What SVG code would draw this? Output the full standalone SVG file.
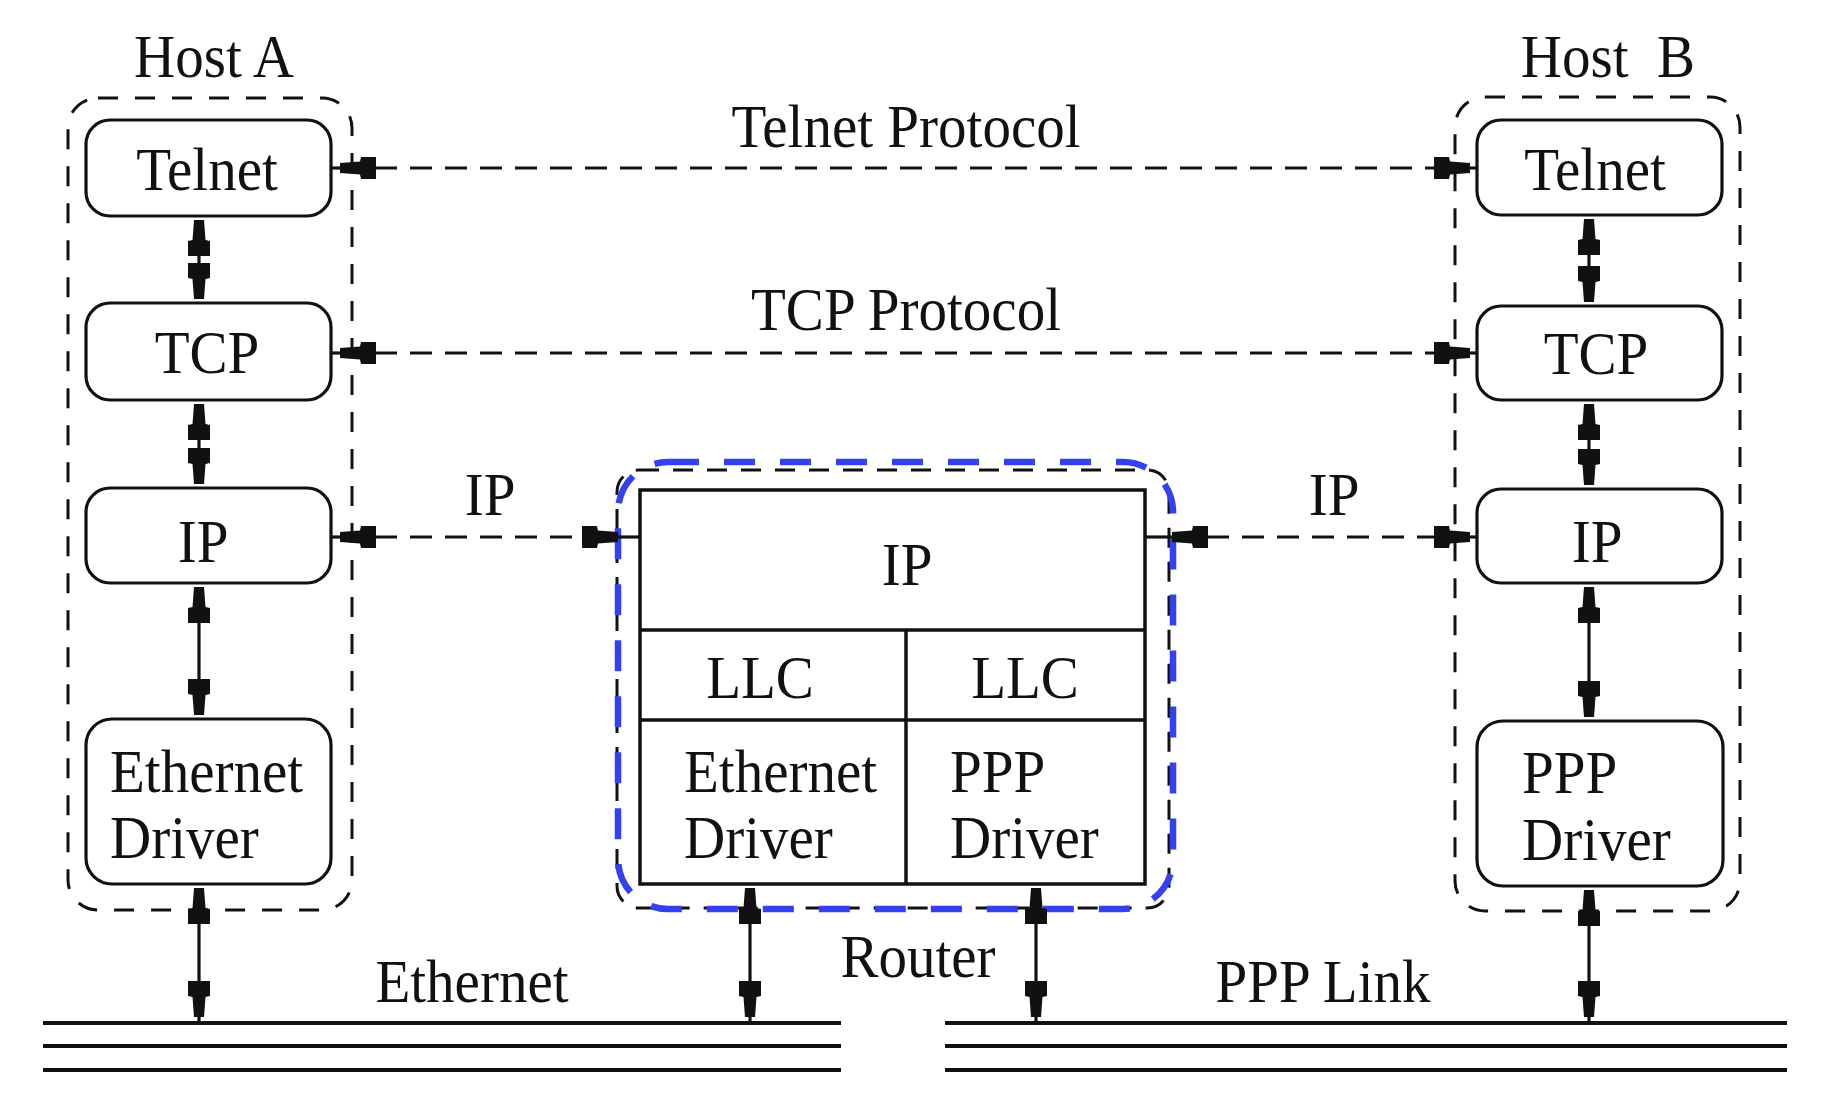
<svg xmlns="http://www.w3.org/2000/svg" width="1826" height="1108" viewBox="0 0 1826 1108">
<style>
.t{font-family:"Liberation Serif","Times New Roman",serif;font-size:61px;fill:#111}
.box{fill:none;stroke:#111;stroke-width:3.2}
.host{fill:none;stroke:#111;stroke-width:3;stroke-dasharray:20 17}
.tbl{fill:none;stroke:#111;stroke-width:3.5}
.dash{fill:none;stroke:#111;stroke-width:3.2;stroke-dasharray:22 13;marker-start:url(#ah);marker-end:url(#ah)}
.solid{fill:none;stroke:#111;stroke-width:3.2}
.vc{fill:none;stroke:#111;stroke-width:3.2;marker-start:url(#ah);marker-end:url(#ah)}
.bus{fill:none;stroke:#111;stroke-width:4}
.blue{fill:none;stroke:#3341F0;stroke-width:6.5;stroke-dasharray:31 25}
</style>
<defs>
<marker id="ah" viewBox="-37 -12 38 24" markerWidth="38" markerHeight="24" refX="0" refY="0" markerUnits="userSpaceOnUse" orient="auto-start-reverse">
<path d="M0,-5 L-20,-6.5 L-21,-11 L-36,-11 L-36,11 L-21,11 L-20,6.5 L0,5 Z" fill="#111"/>
</marker>
</defs>

<g id="hostA">
<text class="t" text-anchor="middle" transform="translate(214,77) scale(0.935,1)">Host A</text>
<rect class="host" x="68" y="98" width="284" height="812" rx="30"/>
</g>
<g id="hostB">
<text class="t" text-anchor="middle" xml:space="preserve" transform="translate(1608,77) scale(0.935,1)">Host  B</text>
<rect class="host" x="1455" y="97" width="285" height="814" rx="30"/>
</g>

<g id="telnetA">
<rect class="box" x="86" y="120" width="245" height="96" rx="24"/>
<text class="t" text-anchor="middle" transform="translate(207,190) scale(0.935,1)">Telnet</text>
</g>
<g id="tcpA">
<rect class="box" x="86" y="303" width="245" height="97" rx="24"/>
<text class="t" text-anchor="middle" transform="translate(207,373) scale(0.935,1)">TCP</text>
</g>
<g id="ipA">
<rect class="box" x="86" y="488" width="245" height="95" rx="24"/>
<text class="t" text-anchor="middle" transform="translate(203,562) scale(0.935,1)">IP</text>
</g>
<g id="ethA">
<rect class="box" x="86" y="719" width="245" height="165" rx="26"/>
<text class="t" transform="translate(110,792) scale(0.935,1)">Ethernet</text>
<text class="t" transform="translate(110,858) scale(0.935,1)">Driver</text>
</g>

<g id="telnetB">
<rect class="box" x="1477" y="120" width="245" height="95" rx="24"/>
<text class="t" text-anchor="middle" transform="translate(1595,190) scale(0.935,1)">Telnet</text>
</g>
<g id="tcpB">
<rect class="box" x="1477" y="306" width="245" height="94" rx="24"/>
<text class="t" text-anchor="middle" transform="translate(1596,374) scale(0.935,1)">TCP</text>
</g>
<g id="ipB">
<rect class="box" x="1477" y="489" width="245" height="94" rx="24"/>
<text class="t" text-anchor="middle" transform="translate(1597,562) scale(0.935,1)">IP</text>
</g>
<g id="pppB">
<rect class="box" x="1477" y="721" width="246" height="165" rx="26"/>
<text class="t" transform="translate(1522,793) scale(0.935,1)">PPP</text>
<text class="t" transform="translate(1522,860) scale(0.935,1)">Driver</text>
</g>

<g id="router">
<rect fill="none" stroke="#111" stroke-width="3" stroke-dasharray="20 14" x="617" y="470" width="552" height="438" rx="22"/>
<rect class="tbl" x="640" y="490" width="505" height="394"/>
<line class="tbl" x1="640" y1="630" x2="1145" y2="630"/>
<line class="tbl" x1="640" y1="720" x2="1145" y2="720"/>
<line class="tbl" x1="906" y1="630" x2="906" y2="884"/>
<text class="t" text-anchor="middle" transform="translate(907,585) scale(0.935,1)">IP</text>
<text class="t" text-anchor="middle" transform="translate(760,698) scale(0.935,1)">LLC</text>
<text class="t" text-anchor="middle" transform="translate(1025,698) scale(0.935,1)">LLC</text>
<text class="t" transform="translate(684,792) scale(0.935,1)">Ethernet</text>
<text class="t" transform="translate(684,858) scale(0.935,1)">Driver</text>
<text class="t" transform="translate(950,792) scale(0.935,1)">PPP</text>
<text class="t" transform="translate(950,858) scale(0.935,1)">Driver</text>
<rect class="blue" x="618" y="462" width="555" height="447" rx="50"/>
<text class="t" text-anchor="middle" transform="translate(918,977) scale(0.935,1)">Router</text>
</g>

<g id="ethernet-bus">
<line class="bus" x1="43" y1="1023" x2="841" y2="1023"/>
<line class="bus" x1="43" y1="1046" x2="841" y2="1046"/>
<line class="bus" x1="43" y1="1070" x2="841" y2="1070"/>
<text class="t" text-anchor="middle" transform="translate(472,1002) scale(0.935,1)">Ethernet</text>
</g>
<g id="ppp-link">
<line class="bus" x1="945" y1="1023" x2="1787" y2="1023"/>
<line class="bus" x1="945" y1="1046" x2="1787" y2="1046"/>
<line class="bus" x1="945" y1="1070" x2="1787" y2="1070"/>
<text class="t" text-anchor="middle" transform="translate(1323,1002) scale(0.935,1)">PPP Link</text>
</g>

<g id="connectors">
<line class="solid" x1="331" y1="168" x2="340" y2="168"/>
<line class="dash" x1="340" y1="168" x2="1470" y2="168"/>
<line class="solid" x1="1470" y1="168" x2="1477" y2="168"/>
<text class="t" text-anchor="middle" transform="translate(906,147) scale(0.935,1)">Telnet Protocol</text>

<line class="solid" x1="331" y1="353" x2="340" y2="353"/>
<line class="dash" x1="340" y1="353" x2="1470" y2="353"/>
<line class="solid" x1="1470" y1="353" x2="1477" y2="353"/>
<text class="t" text-anchor="middle" transform="translate(906,330) scale(0.935,1)">TCP Protocol</text>

<line class="solid" x1="331" y1="537" x2="340" y2="537"/>
<line class="dash" x1="340" y1="537" x2="618" y2="537"/>
<line class="solid" x1="618" y1="537" x2="640" y2="537"/>
<text class="t" text-anchor="middle" transform="translate(490,515) scale(0.935,1)">IP</text>

<line class="solid" x1="1145" y1="537" x2="1172" y2="537"/>
<line class="dash" x1="1172" y1="537" x2="1470" y2="537"/>
<line class="solid" x1="1470" y1="537" x2="1477" y2="537"/>
<text class="t" text-anchor="middle" transform="translate(1334,515) scale(0.935,1)">IP</text>

<line class="vc" x1="199" y1="220" x2="199" y2="299"/>
<line class="vc" x1="199" y1="404" x2="199" y2="484"/>
<line class="vc" x1="199" y1="587" x2="199" y2="715"/>
<line class="vc" x1="199" y1="888" x2="199" y2="1017"/>
<line class="solid" x1="199" y1="1017" x2="199" y2="1023"/>

<line class="vc" x1="1589" y1="219" x2="1589" y2="302"/>
<line class="vc" x1="1589" y1="404" x2="1589" y2="485"/>
<line class="vc" x1="1589" y1="587" x2="1589" y2="717"/>
<line class="vc" x1="1589" y1="890" x2="1589" y2="1017"/>
<line class="solid" x1="1589" y1="1017" x2="1589" y2="1023"/>

<line class="vc" x1="750" y1="888" x2="750" y2="1017"/>
<line class="solid" x1="750" y1="1017" x2="750" y2="1023"/>
<line class="vc" x1="1036" y1="888" x2="1036" y2="1017"/>
<line class="solid" x1="1036" y1="1017" x2="1036" y2="1023"/>
</g>
</svg>
